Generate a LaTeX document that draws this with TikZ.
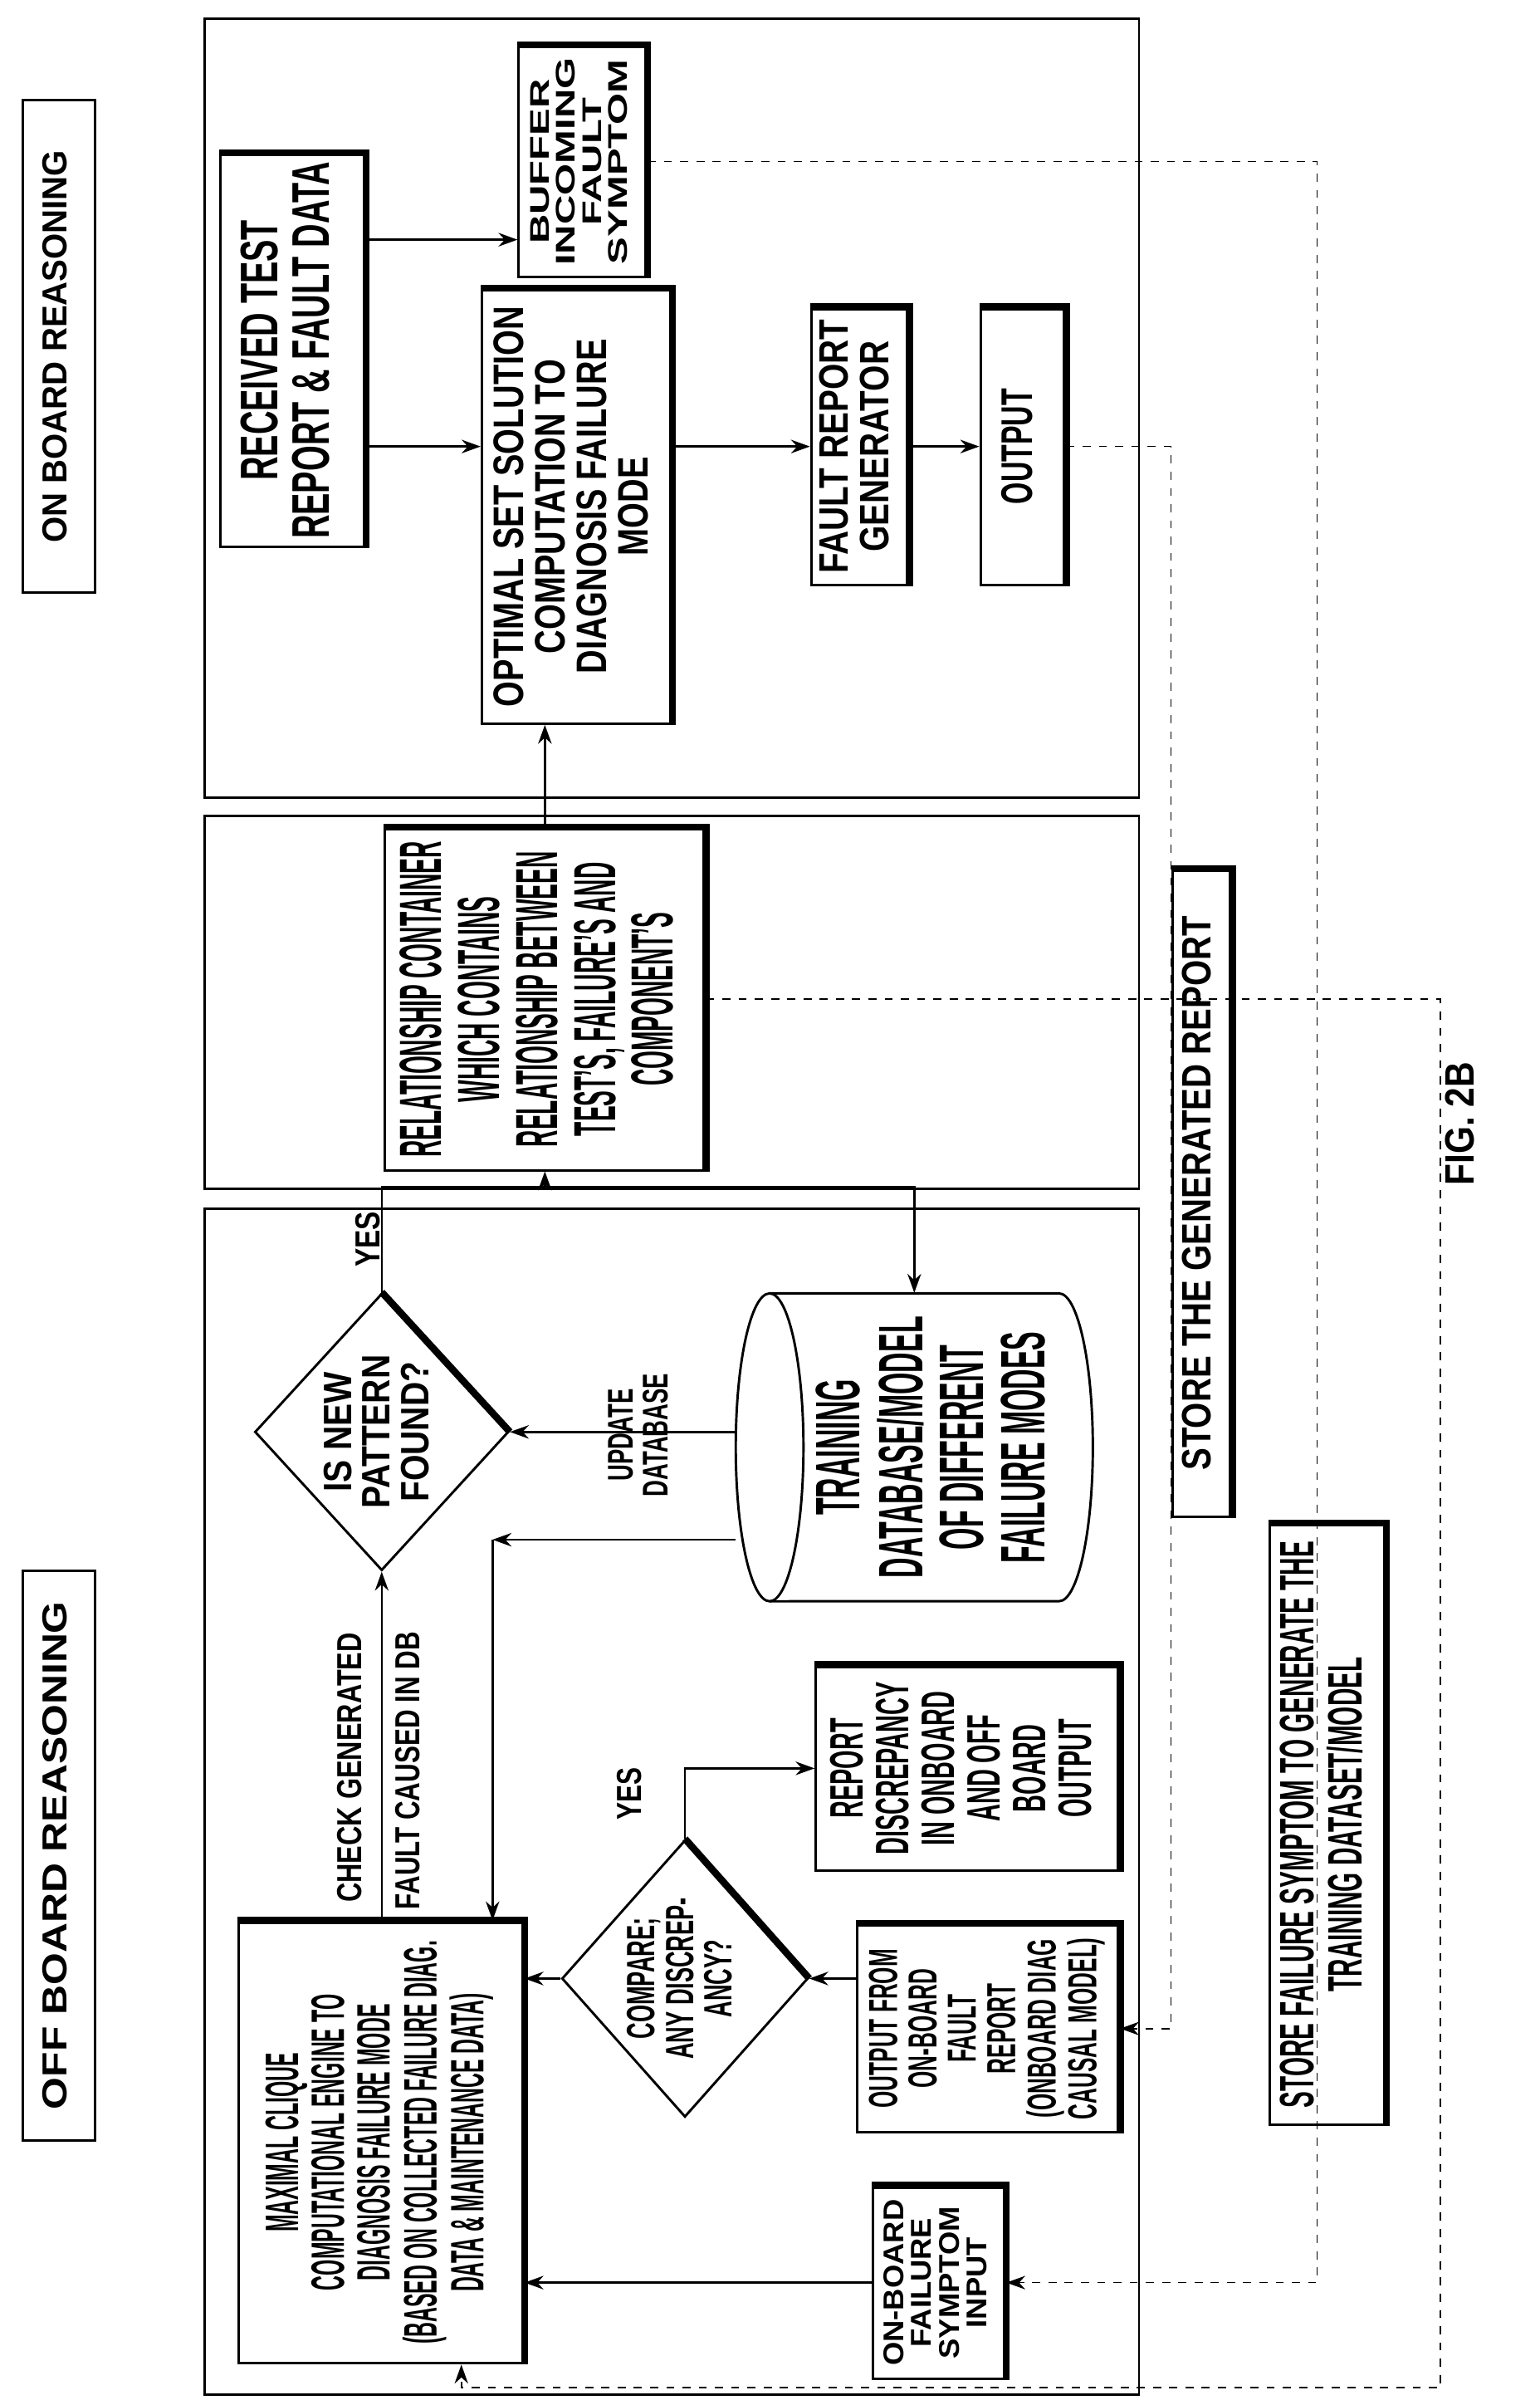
\documentclass[tikz,border=0pt]{standalone}
\usepackage{fontspec}
\usepackage{graphicx}
\setmainfont{Liberation Sans}[FakeStretch=0.7]
\usetikzlibrary{shapes.geometric,calc,arrows.meta}
\newlength\px \setlength\px{0.02cm}
\newcommand{\rtx}[3]{\rotatebox{90}{\resizebox*{#1\px}{#2\px}{\renewcommand{\arraystretch}{0.85}\begin{tabular}{@{}c@{}}#3\end{tabular}}}}
\begin{document}
\begin{tikzpicture}[x=0.02cm,y=-0.02cm,
  font=\bfseries\fontsize{12}{13}\selectfont,
  box/.style={draw,line width=0.9pt,inner sep=0pt,align=center},
  arr/.style={-{Stealth[length=7pt,width=5pt]},line width=0.8pt},
  dsh/.style={arr,dashed,line width=0.5pt},
  sh/.style={line width=2.6pt}]
\useasboundingbox (0,0) rectangle (1000,1562);
% containers
\draw[line width=0.9pt] (133,12) rectangle (740,518);
\draw[line width=0.9pt] (133,530) rectangle (740,772);
\draw[line width=0.9pt] (133,785) rectangle (740,1555);
% labels
\node[box,minimum width=0.94cm,minimum height=6.4cm] (onb) at (38.5,225) {\rtx{255}{22}{ON BOARD REASONING}};
\node[box,minimum width=0.94cm,minimum height=7.4cm] (offb) at (38.5,1205) {\rtx{330}{22}{OFF BOARD REASONING}};
% on board
\node[box,minimum width=1.88cm,minimum height=5.1cm] (rec) at (190,227.5) {\rtx{245}{67}{RECEIVED TEST\\REPORT \& FAULT DATA}};
\node[box,minimum width=1.66cm,minimum height=3.0cm] (buf) at (378.5,105) {\rtx{135}{68}{BUFFER\\INCOMING\\FAULT\\SYMPTOM}};
\node[box,minimum width=2.46cm,minimum height=5.64cm] (opt) at (374.5,329) {\rtx{260}{108}{OPTIMAL SET SOLUTION\\COMPUTATION TO\\DIAGNOSIS FAILURE\\MODE}};
\node[box,minimum width=1.26cm,minimum height=3.6cm] (frg) at (558.5,290) {\rtx{165}{52}{FAULT REPORT\\GENERATOR}};
\node[box,minimum width=1.1cm,minimum height=3.6cm] (out) at (664.5,290) {\rtx{75}{28}{OUTPUT}};
% middle
\node[box,minimum width=4.16cm,minimum height=4.44cm] (rel) at (354,649) {\rtx{205}{188}{RELATIONSHIP CONTAINER\\WHICH CONTAINS\\RELATIONSHIP BETWEEN\\TEST'S, FAILURE'S AND\\COMPONENT'S}};
% off board
\node[draw,diamond,line width=0.9pt,minimum width=3.3cm,minimum height=3.6cm,inner sep=0pt] (d1) at (248,930) {};
\node at (d1) {\rtx{100}{75}{IS NEW\\PATTERN\\FOUND?}};
\node[draw,diamond,line width=0.9pt,minimum width=3.2cm,minimum height=3.6cm,inner sep=0pt] (d2) at (445,1285) {};
\node at (d2) {\rtx{105}{75}{COMPARE;\\ANY DISCREP-\\ANCY?}};
\node[minimum width=4.64cm,minimum height=4.0cm,inner sep=0pt] (cyl) at (594,940) {};
\draw[line width=0.9pt] (500,940) ellipse [x radius=0.44cm,y radius=2cm];
\draw[line width=0.9pt] (500,840) -- (688,840) arc[start angle=90,end angle=-90,x radius=0.44cm,y radius=2cm] -- (500,1040);
\node at (610,940) {\rtx{170}{160}{TRAINING\\DATABASE/MODEL\\OF DIFFERENT\\FAILURE MODES}};
\node (upd) at (418,932) {\rtx{80}{45}{UPDATE\\DATABASE}};
\node (yes1) at (242,805) {\rtx{36}{22}{YES}};
\node (yes2) at (412,1165) {\rtx{34}{22}{YES}};
\node[box,minimum width=3.94cm,minimum height=2.66cm] (rep) at (628.5,1148.5) {\rtx{112}{178}{REPORT\\DISCREPANCY\\IN ONBOARD\\AND OFF\\BOARD\\OUTPUT}};
\node[box,minimum width=3.4cm,minimum height=2.7cm] (ofo) at (642,1317.5) {\rtx{118}{155}{OUTPUT FROM\\ON-BOARD\\FAULT\\REPORT\\(ONBOARD DIAG\\CAUSAL MODEL)}};
\node[box,minimum width=3.7cm,minimum height=5.74cm] (max) at (247.5,1391.5) {\rtx{262}{150}{MAXIMAL CLIQUE\\COMPUTATIONAL ENGINE TO\\DIAGNOSIS FAILURE MODE\\(BASED ON COLLECTED FAILURE DIAG.\\DATA \& MAINTENANCE DATA)}};
\node[box,minimum width=1.72cm,minimum height=2.5cm] (inp) at (610,1482.5) {\rtx{108}{72}{ON-BOARD\\FAILURE\\SYMPTOM\\INPUT}};
\node (chk1) at (230,1148) {\rtx{175}{22}{CHECK GENERATED}};
\node (chk2) at (268,1150) {\rtx{180}{22}{FAULT CAUSED IN DB}};
% store boxes
\node[box,minimum width=0.76cm,minimum height=8.4cm] (st1) at (781,775) {\rtx{360}{26}{STORE THE GENERATED REPORT}};
\node[box,minimum width=1.5cm,minimum height=7.8cm] (st2) at (862.5,1185) {\rtx{368}{62}{STORE FAILURE SYMPTOM TO GENERATE THE\\TRAINING DATASET/MODEL}};
\node (fig) at (952,730) {\rtx{80}{26}{FIG. 2B}};
% shadows (thick top and right edges)
\foreach \n in {rec,buf,opt,frg,out,rel,rep,ofo,max,inp,st1,st2}{
  \draw[sh] (\n.north west) -- (\n.north east) -- (\n.south east);}
\draw[sh] (d1.north) -- (d1.east);
\draw[sh] (d2.north) -- (d2.east);
% connectors
\draw[arr] ($(rec.north east)!0.22!(rec.south east)$) coordinate (t1) -- (t1 -| buf.west);
\draw[arr] (rec.east |- frg) -- (opt.west |- frg);
\draw[arr] (opt.east |- frg) -- (frg.west);
\draw[arr] (frg.east) -- (out.west);
\draw[arr] (rel.north) -- (rel.north |- opt.south);
\coordinate (j) at ($(rel.south)+(0,10)$);
\draw[line width=0.8pt] (d1.north) |- (j);
\draw[arr] (j) -| (cyl.north);
\draw[arr] (j) -- (rel.south);
\draw[arr] (cyl.west |- d1.east) -- (d1.east);
\coordinate (k) at (320,1000);
\draw[arr] (cyl.west |- k) -- (k);
\draw[arr] (k) -- (k |- max.north);
\draw[arr] (d1.south |- max.north) -- (d1.south);
\draw[arr] (d2.west) -- (max.east |- d2.west);
\draw[arr] (d2.north) |- (rep.west);
\draw[arr] (ofo.west |- d2.east) -- (d2.east);
\draw[arr] (inp.west) -- (max.east |- inp.west);
% dashed
\draw[dsh] (buf.east) -- ++(435,0) |- (inp.east);
\draw[dsh] (out.east) -- ++(68,0) |- (ofo.east);
\coordinate (m) at ($(max.south west)!0.78!(max.south east)$);
\draw[dsh] (rel.east) -- ++(477,0) |- ($(m)+(0,15)$) -- (m);
\end{tikzpicture}
\end{document}
